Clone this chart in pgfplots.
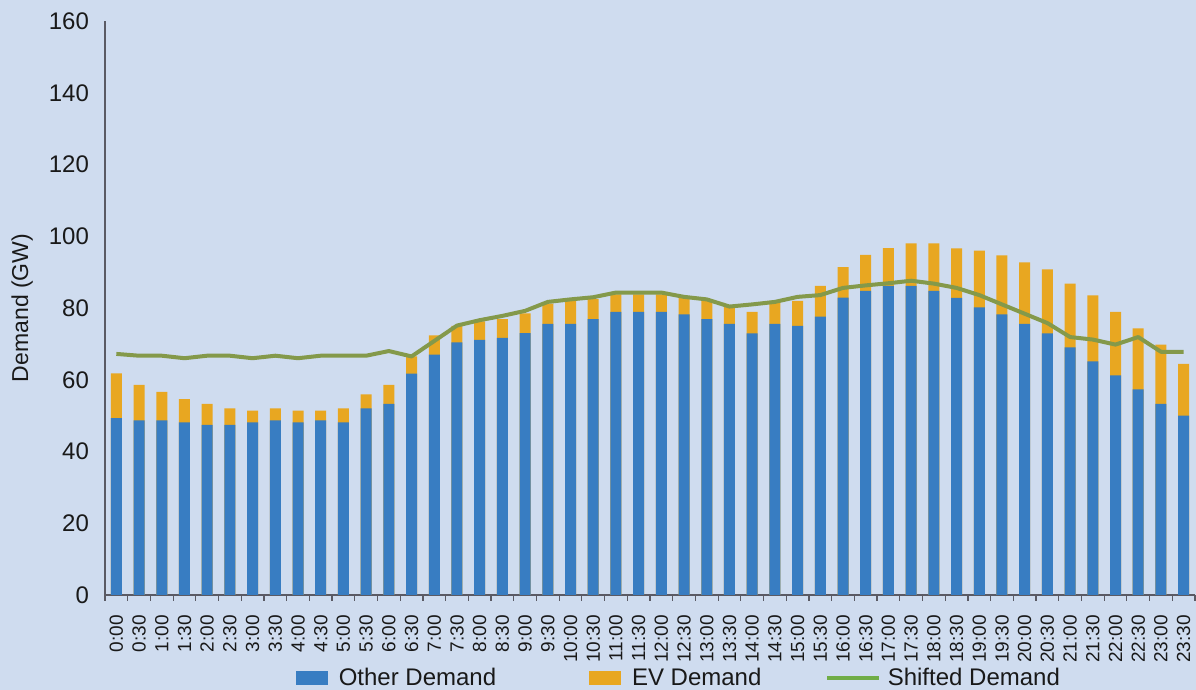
\documentclass[border=0pt]{standalone}
\usepackage{fontspec}
\setmainfont{Liberation Sans}
\usepackage{pgfplots}
\usepackage{pgfplotstable}
\pgfplotsset{compat=1.18}
\definecolor{bgc}{RGB}{207,220,239}
\definecolor{bluec}{RGB}{56,125,194}
\definecolor{orangec}{RGB}{232,167,33}
\definecolor{linec}{RGB}{132,153,74}
\definecolor{leggreen}{RGB}{112,173,71}
\definecolor{axisc}{RGB}{90,90,100}
\definecolor{txtc}{RGB}{25,25,25}

\pgfplotstableread{
x lab other ev shifted
0 0:00 49.3 12.5 67.2
1 0:30 48.7 9.9 66.7
2 1:00 48.7 7.9 66.7
3 1:30 48.1 6.5 66.0
4 2:00 47.4 5.9 66.7
5 2:30 47.4 4.6 66.7
6 3:00 48.1 3.3 66.0
7 3:30 48.7 3.3 66.7
8 4:00 48.1 3.3 66.0
9 4:30 48.7 2.7 66.7
10 5:00 48.1 3.9 66.7
11 5:30 52.0 3.9 66.7
12 6:00 53.3 5.3 68.0
13 6:30 61.7 4.8 66.5
14 7:00 67.0 5.4 70.8
15 7:30 70.4 4.6 75.1
16 8:00 71.1 5.2 76.6
17 8:30 71.7 5.2 77.8
18 9:00 73.0 5.5 79.2
19 9:30 75.6 5.6 81.7
20 10:00 75.6 6.3 82.4
21 10:30 76.9 5.6 83.0
22 11:00 78.9 4.9 84.3
23 11:30 78.9 4.9 84.3
24 12:00 78.9 4.9 84.3
25 12:30 78.2 4.8 83.1
26 13:00 76.9 5.1 82.4
27 13:30 75.6 4.9 80.4
28 14:00 72.9 6.0 81.0
29 14:30 75.6 6.4 81.7
30 15:00 75.0 7.0 83.1
31 15:30 77.6 8.6 83.6
32 16:00 82.9 8.5 85.6
33 16:30 84.8 10.0 86.3
34 17:00 86.2 10.5 86.9
35 17:30 86.2 11.8 87.6
36 18:00 84.8 13.2 86.8
37 18:30 82.8 13.8 85.6
38 19:00 80.2 15.8 83.6
39 19:30 78.2 16.5 81.0
40 20:00 75.6 17.1 78.4
41 20:30 72.9 17.9 75.8
42 21:00 69.0 17.8 71.9
43 21:30 65.1 18.4 71.2
44 22:00 61.2 17.7 69.8
45 22:30 57.3 17.0 71.9
46 23:00 53.3 16.5 67.8
47 23:30 50.0 14.4 67.8
}\datatable

\begin{document}
\begin{tikzpicture}
\path[use as bounding box, fill=bgc] (-52.5pt,-47.5pt) rectangle (545.5pt,297.5pt);
\begin{axis}[
  at={(0,0)}, anchor=south west,
  scale only axis,
  width=545pt, height=287pt,
  xmin=-0.5, xmax=47.5,
  ymin=0, ymax=160,
  axis x line*=bottom, axis y line*=left,
  axis line style={draw=axisc, line width=0.7pt, -},
  xtick={0,...,47},
  xticklabels from table={\datatable}{lab},
  minor xtick={-0.5,0.5,...,47.5},
  ytick={0,20,...,160},
  tick align=outside,
  major tick length=0pt,
  minor tick length=2.8pt,
  minor tick style={draw=axisc, line width=0.6pt},
  major tick style={draw=none},
  xticklabel style={rotate=90, anchor=east, inner xsep=10pt, inner ysep=0pt, font=\fontsize{9.5}{10}\selectfont, text=txtc},
  yticklabel style={font=\fontsize{12}{14}\selectfont, text=txtc, xshift=-4.5pt},
  /pgf/number format/assume math mode=true,
  ylabel={Demand (GW)},
  every axis y label/.style={at={(axis description cs:-0.0761,0.5)}, rotate=90, anchor=center, font=\fontsize{11.5}{13}\selectfont, text=txtc},
  legend style={at={(axis description cs:0.5275,-0.1446)}, anchor=center, draw=none, fill=none, font=\fontsize{12}{14}\selectfont, text=txtc, legend columns=-1, /tikz/every even column/.append style={column sep=30pt}},
  clip=false,
]
\addplot[forget plot, ybar, bar shift=0pt, bar width=5.5pt, fill=orangec, draw=none] table[x=x, y expr=\thisrow{other}+\thisrow{ev}] {\datatable};
\addplot[forget plot, ybar, bar shift=0pt, bar width=5.5pt, fill=bluec, draw=none] table[x=x, y=other] {\datatable};
\addplot[forget plot, sharp plot, no marks, draw=linec, line width=2pt, line join=round] table[x=x, y=shifted] {\datatable};
\addlegendimage{legend image code/.code={\fill[bluec] (0pt,-3.25pt) rectangle (15.5pt,3.25pt); \path (19pt,0pt);}}
\addlegendentry{Other Demand}
\addlegendimage{legend image code/.code={\path (-14.5pt,0pt); \fill[orangec] (0pt,-3.25pt) rectangle (15.5pt,3.25pt); \path (19pt,0pt);}}
\addlegendentry{EV Demand}
\addlegendimage{legend image code/.code={\draw[leggreen, line width=2pt] (0pt,0pt) -- (26pt,0pt); \path (28pt,0pt);}}
\addlegendentry{Shifted Demand}
\end{axis}
\end{tikzpicture}
\end{document}
